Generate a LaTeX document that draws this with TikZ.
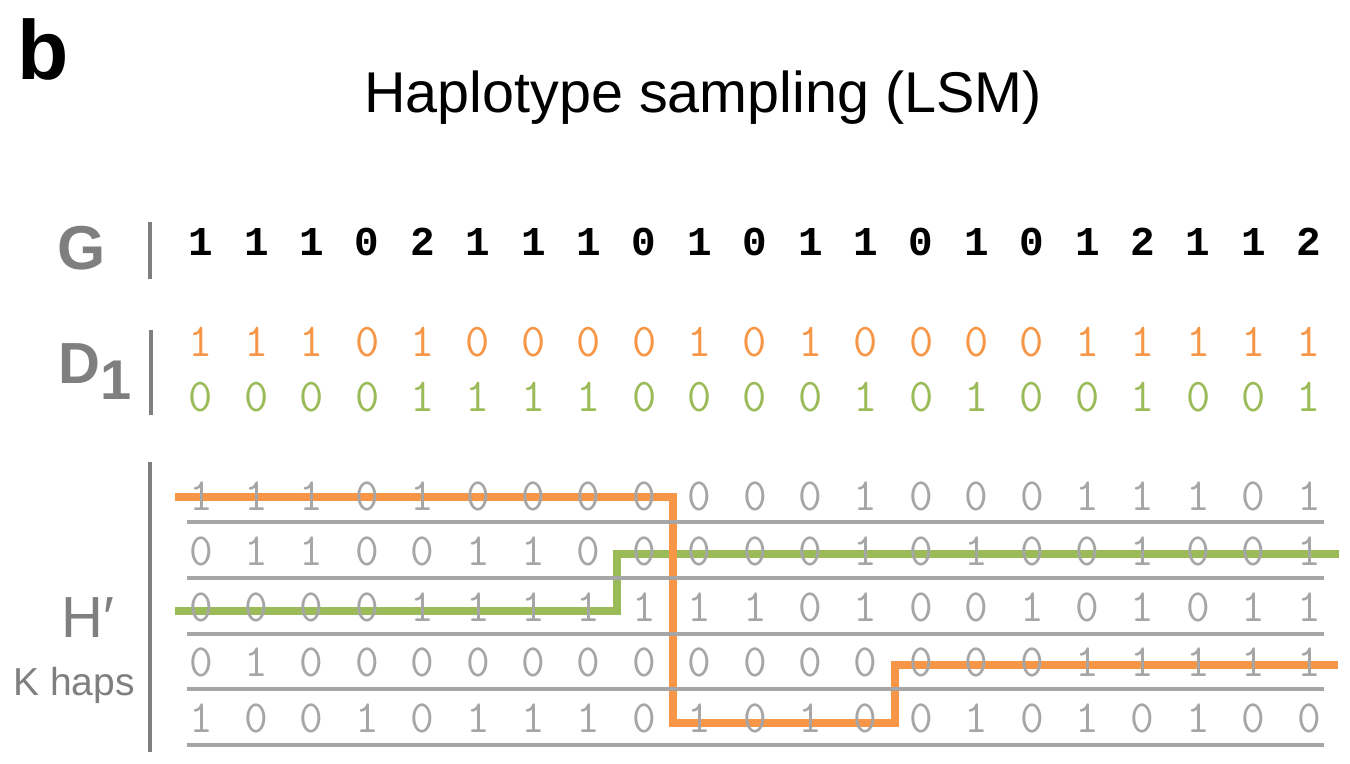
\documentclass[tikz,border=0pt]{standalone}
\usepackage{fontspec}
\setmainfont{Liberation Sans}
\newfontfamily\gmono{Liberation Mono}
\definecolor{orangeL}{HTML}{F79646}
\definecolor{greenL}{HTML}{9BBB59}
\definecolor{digitgray}{HTML}{A6A6A6}
\definecolor{labelgray}{HTML}{7F7F7F}
\begin{document}
\begin{tikzpicture}[x=0.5pt,y=-0.5pt,
  gdig/.style={inner sep=0pt, text=black, font=\gmono\bfseries\fontsize{20.5}{24}\selectfont},
  odig/.style={inner sep=0pt, text=orangeL, font=\ttfamily\fontsize{23.5}{28}\selectfont},
  grdig/.style={inner sep=0pt, text=greenL, font=\ttfamily\fontsize{23.5}{28}\selectfont},
  hdig/.style={inner sep=0pt, text=digitgray, font=\ttfamily\fontsize{23}{28}\selectfont},
  sepbar/.style={draw=labelgray, line width=2pt},
  rowline/.style={draw=digitgray, line width=2pt},
  pathline/.style={line width=3.7pt, line join=miter, line cap=butt},
  lbl/.style={inner sep=0pt, text=labelgray}]
\useasboundingbox (0,0) rectangle (1350,764);

% panel letter and title
\node[inner sep=0pt, anchor=base west, font=\bfseries\fontsize{42}{48}\selectfont] (panel) at (17,80) {b};
\node[inner sep=0pt, anchor=base, font=\fontsize{28.75}{34}\selectfont] (title) at (703,113) {Haplotype sampling (LSM)};

% row labels
\node[lbl, anchor=base, font=\bfseries\fontsize{31}{36}\selectfont] (lG) at (82,270) {G};
\node[lbl, anchor=base west, font=\bfseries\fontsize{29}{34}\selectfont] (lD) at (58,384) {D\raisebox{-8pt}{\fontsize{28}{32}\selectfont 1}};
\node[lbl, anchor=base west, font=\fontsize{29}{34}\selectfont] (lH) at (61,637) {H′};
\node[lbl, anchor=base west, font=\fontsize{19.5}{24}\selectfont] (lK) at (13,695) {K haps};

% separator bars
\coordinate (gbt) at (150,222); \coordinate (gbb) at (150,279);
\coordinate (dbt) at (151,330); \coordinate (dbb) at (151,415);
\coordinate (hbt) at (150,462); \coordinate (hbb) at (150,752);
\draw[sepbar] (gbt) -- (gbb);
\draw[sepbar] (dbt) -- (dbb);
\draw[sepbar] (hbt) -- (hbb);

% genotype row
\foreach \v [count=\i] in {1,1,1,0,2,1,1,1,0,1,0,1,1,0,1,0,1,2,1,1,2}
  \node[gdig] (g\i) at ({201+55.4*(\i-1)},242) {\v};

% D1 rows
\foreach \v [count=\i] in {1,1,1,0,1,0,0,0,0,1,0,1,0,0,0,0,1,1,1,1,1}
  \node[odig] (do\i) at ({201+55.4*(\i-1)},342) {\v};
\foreach \v [count=\i] in {0,0,0,0,1,1,1,1,0,0,0,0,1,0,1,0,0,1,0,0,1}
  \node[grdig] (dg\i) at ({201+55.4*(\i-1)},397) {\v};

% sampled paths (drawn beneath the reference haplotypes)
\coordinate (g0) at (175,611); \coordinate (g1) at (617,611);
\coordinate (g2) at (617,554); \coordinate (g3) at (1339,554);
\draw[pathline, greenL] (g0) -- (g1) -- (g2) -- (g3);
\coordinate (o0) at (175,497); \coordinate (o1) at (673,497);
\coordinate (o2) at (673,723); \coordinate (o3) at (895,723);
\coordinate (o4) at (895,665); \coordinate (o5) at (1338,665);
\draw[pathline, orangeL] (o0) -- (o1) -- (o2) -- (o3) -- (o4) -- (o5);

% reference haplotypes H'
\foreach \row [count=\r] in {
  {1,1,1,0,1,0,0,0,0,0,0,0,1,0,0,0,1,1,1,0,1},
  {0,1,1,0,0,1,1,0,0,0,0,0,1,0,1,0,0,1,0,0,1},
  {0,0,0,0,1,1,1,1,1,1,1,0,1,0,0,1,0,1,0,1,1},
  {0,1,0,0,0,0,0,0,0,0,0,0,0,0,0,0,1,1,1,1,1},
  {1,0,0,1,0,1,1,1,0,1,0,1,0,0,1,0,1,0,1,0,0}} {
  \foreach \v [count=\i] in \row
    \node[hdig] (h\r-\i) at ({201+55.4*(\i-1)},{496+55.5*(\r-1)}) {\v};
  \coordinate (ls\r) at (187,{522+55.75*(\r-1)});
  \coordinate (le\r) at (1324,{522+55.75*(\r-1)});
  \draw[rowline] (ls\r) -- (le\r);
}
\end{tikzpicture}
\end{document}
